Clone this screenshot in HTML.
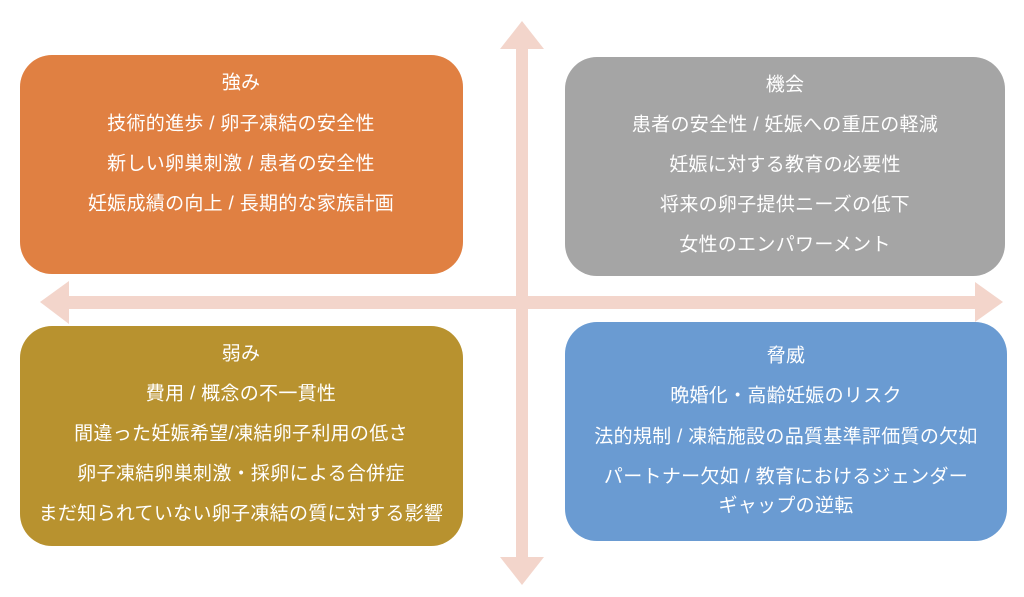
<!DOCTYPE html>
<html><head><meta charset="utf-8"><style>
body{margin:0;background:#fff;}
svg{display:block;}
text{font-family:"Liberation Sans","Noto Sans CJK JP",sans-serif;font-size:19px;letter-spacing:0.3px;fill:#fff;text-anchor:middle;dominant-baseline:central;}
</style></head><body>
<svg width="1024" height="597" viewBox="0 0 1024 597">
<g fill="#F3D5CB">
<rect x="516" y="48" width="12" height="510"/>
<polygon points="500,49 544,49 522,21"/>
<polygon points="500,557 544,557 522,585"/>
<rect x="68" y="296" width="908" height="13"/>
<polygon points="69,281 69,324 40,302"/>
<polygon points="975,282 975,322 1003,302"/>
</g>
<rect x="20" y="55" width="443" height="219" rx="32" fill="#E08042"/>
<rect x="565" y="57" width="440" height="219" rx="32" fill="#A5A5A5"/>
<rect x="20" y="326" width="443" height="220" rx="32" fill="#B8922F"/>
<rect x="565" y="322" width="442" height="219" rx="32" fill="#6A9BD2"/>
<text x="241" y="83">強み</text>
<text x="241" y="124">技術的進歩 / 卵子凍結の安全性</text>
<text x="241" y="164">新しい卵巣刺激 / 患者の安全性</text>
<text x="241" y="204">妊娠成績の向上 / 長期的な家族計画</text>
<text x="785" y="85">機会</text>
<text x="785" y="125">患者の安全性 / 妊娠への重圧の軽減</text>
<text x="785" y="165">妊娠に対する教育の必要性</text>
<text x="785" y="205">将来の卵子提供ニーズの低下</text>
<text x="785" y="245">女性のエンパワーメント</text>
<text x="241" y="354">弱み</text>
<text x="241" y="394">費用 / 概念の不一貫性</text>
<text x="241" y="434">間違った妊娠希望/凍結卵子利用の低さ</text>
<text x="241" y="474">卵子凍結卵巣刺激・採卵による合併症</text>
<text x="241" y="514">まだ知られていない卵子凍結の質に対する影響</text>
<text x="786" y="356">脅威</text>
<text x="786" y="396">晩婚化・高齢妊娠のリスク</text>
<text x="786" y="437">法的規制 / 凍結施設の品質基準評価質の欠如</text>
<text x="786" y="477">パートナー欠如 / 教育におけるジェンダー</text>
<text x="786" y="506">ギャップの逆転</text>
</svg>
</body></html>
